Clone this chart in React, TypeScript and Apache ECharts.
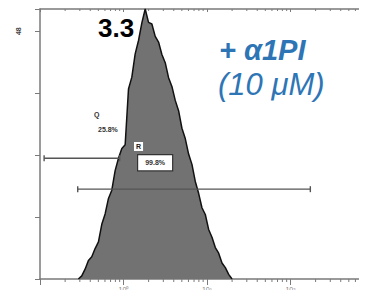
import React, { useEffect, useRef } from "react";
import * as echarts from "echarts";

// Histogram bins (log10 of fluorescence intensity) and event counts
const binExponents: number[] = [
  -0.54, -0.5, -0.46, -0.42, -0.38, -0.34, -0.3, -0.26, -0.22, -0.18, -0.14, -0.1,
  -0.06, -0.02, 0.02, 0.06, 0.1, 0.14, 0.18, 0.22, 0.26, 0.3, 0.34, 0.38, 0.42,
  0.46, 0.5, 0.54, 0.58, 0.62, 0.66, 0.7, 0.74, 0.78, 0.82, 0.86, 0.9, 0.94, 0.98,
  1.02, 1.06, 1.1, 1.14, 1.18, 1.22, 1.26, 1.3,
];
const binCounts: number[] = [
  0, 0.6, 1.9, 3.6, 4.3, 5.9, 7.2, 10.6, 12.6, 15.6, 17.2, 21.0, 23.4, 25.3, 26.0,
  36.8, 39.1, 43.6, 46.2, 49.6, 52.3, 49.7, 49.4, 47.0, 45.9, 43.5, 41.9, 39.0,
  37.3, 34.6, 32.6, 29.2, 27.2, 24.2, 22.2, 18.9, 16.6, 13.8, 12.5, 9.6, 8.1, 6.1,
  5.0, 3.1, 2.2, 0.9, 0,
];

// Gates: [start intensity, end intensity, count level]
const gateStarts: number[] = [0.112, 0.283];
const gateEnds: number[] = [0.9, 173];
const gateLevels: number[] = [23.4, 17.4];

// Axis settings (the plot is cropped on the right before 10^3)
const xMin = 0.1;
const xMax = 760;
const yMax = 52.3;
const yInterval = 12;
const yTickLabels: Record<number, string> = { 48: "48" };
const xTickLabels: Record<number, string> = { 1: "10\u2070", 10: "10\u00b9", 100: "10\u00b2" };

const peakLabel = "3.3";
const titleLine1 = "+ \u03b11PI";
const titleLine2 = "(10 \u03bcM)";
const gateLabelQ = "Q";
const gateValueQ = "25.8%";
const gateLabelR = "R";
const gateValueR = "99.8%";

const BLUE = "#2e75b6";
const AXIS = "#7a7a7a";
const FONT = "Liberation Sans, Arial, sans-serif";

export default function App() {
  const ref = useRef<HTMLDivElement>(null);

  useEffect(() => {
    if (!ref.current) return;
    const chart = echarts.init(ref.current, undefined, { renderer: "svg" });

    const histData = binExponents.map((e, i) => [Math.pow(10, e), binCounts[i]]);
    const minorTicks: number[] = [];
    for (let k = -1; k < 3; k++) {
      for (let m = 2; m <= 9; m++) {
        const v = m * Math.pow(10, k);
        if (v < xMax) minorTicks.push(v);
      }
    }
    const gateData = gateStarts.map((s, i) => [s, gateEnds[i], gateLevels[i]]);

    chart.setOption({
      animation: false,
      grid: { left: 40, right: 0, top: 9, bottom: 19, containLabel: false },
      xAxis: [
        {
          type: "log",
          logBase: 10,
          min: xMin,
          max: xMax,
          position: "bottom",
          axisLine: { show: true, lineStyle: { color: AXIS, width: 1.5 } },
          axisTick: { show: true, inside: false, length: 6, lineStyle: { color: AXIS } },
          axisLabel: {
            show: true,
            fontSize: 7,
            color: "#888",
            margin: 7,
            formatter: (v: number) => xTickLabels[Math.round(v * 1000) / 1000] || "",
          },
          splitLine: { show: false },
        },
        {
          type: "log",
          logBase: 10,
          min: xMin,
          max: xMax,
          position: "top",
          axisLine: { show: true, lineStyle: { color: AXIS, width: 1.5 } },
          axisTick: { show: true, inside: true, length: 3, lineStyle: { color: AXIS } },
          axisLabel: { show: false },
          splitLine: { show: false },
        },
      ],
      yAxis: {
        type: "value",
        min: 0,
        max: yMax,
        interval: yInterval,
        axisLine: { show: true, lineStyle: { color: AXIS, width: 1.5 } },
        axisTick: { show: true, inside: false, length: 5, lineStyle: { color: AXIS } },
        axisLabel: {
          show: true,
          rotate: 90,
          fontSize: 7,
          color: "#444",
          fontWeight: "bold",
          margin: 18,
          formatter: (v: number) => yTickLabels[v] || "",
        },
        splitLine: { show: false },
      },
      series: [
        {
          type: "line",
          data: histData,
          symbol: "none",
          lineStyle: { color: "#111", width: 1.5 },
          areaStyle: { color: "#727272", opacity: 1 },
          z: 2,
        },
        {
          type: "custom",
          data: gateData,
          z: 5,
          renderItem: (params: any, api: any) => {
            const p1 = api.coord([api.value(0), api.value(2)]);
            const p2 = api.coord([api.value(1), api.value(2)]);
            const st = { stroke: "#555", lineWidth: 1.4 };
            return {
              type: "group",
              children: [
                { type: "line", shape: { x1: p1[0], y1: p1[1], x2: p2[0], y2: p2[1] }, style: st },
                { type: "line", shape: { x1: p1[0], y1: p1[1] - 3, x2: p1[0], y2: p1[1] + 3 }, style: st },
                { type: "line", shape: { x1: p2[0], y1: p2[1] - 3, x2: p2[0], y2: p2[1] + 3 }, style: st },
              ],
            };
          },
        },
        {
          type: "custom",
          data: minorTicks,
          clip: false,
          z: 4,
          renderItem: (params: any, api: any) => {
            const b = api.coord([api.value(0), 0]);
            const t = api.coord([api.value(0), yMax]);
            const st = { stroke: AXIS, lineWidth: 1 };
            return {
              type: "group",
              children: [
                { type: "line", shape: { x1: b[0], y1: b[1], x2: b[0], y2: b[1] + 3 }, style: st },
                { type: "line", shape: { x1: t[0], y1: t[1], x2: t[0], y2: t[1] + 2 }, style: st },
              ],
            };
          },
        },
      ],
      graphic: [
        {
          type: "text",
          left: 98,
          top: 15,
          z: 10,
          style: { text: peakLabel, fontFamily: FONT, fontWeight: "bold", fontSize: 26, fill: "#000" },
        },
        {
          type: "text",
          left: 219,
          top: 35,
          z: 10,
          style: {
            text: titleLine1,
            fontFamily: FONT,
            fontWeight: "bold",
            fontStyle: "italic",
            fontSize: 29,
            fill: BLUE,
          },
        },
        {
          type: "text",
          left: 218,
          top: 69,
          z: 10,
          style: { text: titleLine2, fontFamily: FONT, fontStyle: "italic", fontSize: 31, fill: BLUE },
        },
        {
          type: "text",
          left: 94,
          top: 111,
          z: 10,
          style: { text: gateLabelQ, fontSize: 7, fontWeight: "bold", fill: "#333", fontFamily: FONT },
        },
        {
          type: "text",
          left: 96,
          top: 125,
          z: 10,
          style: {
            text: gateValueQ,
            fontSize: 7,
            fontWeight: "bold",
            fill: "#333",
            backgroundColor: "#fff",
            padding: [1, 2],
            fontFamily: FONT,
          },
        },
        {
          type: "text",
          left: 134,
          top: 142,
          z: 10,
          style: {
            text: gateLabelR,
            fontSize: 7,
            fontWeight: "bold",
            fill: "#222",
            backgroundColor: "#fff",
            padding: [1, 2],
            fontFamily: FONT,
          },
        },
        {
          type: "text",
          left: 137,
          top: 154,
          z: 10,
          style: {
            text: gateValueR,
            fontSize: 7,
            fontWeight: "bold",
            fill: "#333",
            backgroundColor: "#fff",
            borderColor: "#333",
            borderWidth: 1.2,
            padding: [4, 7],
            fontFamily: FONT,
          },
        },
      ],
    });

    return () => chart.dispose();
  }, []);

  return <div ref={ref} style={{ width: 367, height: 298, margin: -8 }} />;
}
